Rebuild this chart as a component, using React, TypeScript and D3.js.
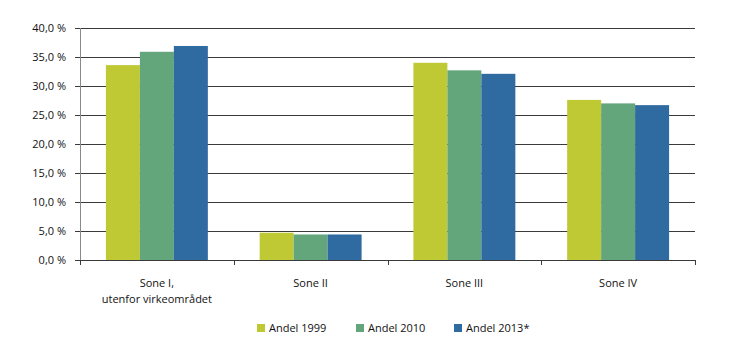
import React, { useEffect, useRef } from 'react';
import * as d3 from 'd3';

// Data
const categories = ['Sone I,\nutenfor virkeområdet', 'Sone II', 'Sone III', 'Sone IV'];
const seriesNames = ['Andel 1999', 'Andel 2010', 'Andel 2013*'];
const andel1999 = [33.6, 4.7, 34.0, 27.6];
const andel2010 = [35.9, 4.4, 32.7, 27.0];
const andel2013 = [36.9, 4.4, 32.1, 26.7];
const yTicks = [0, 5, 10, 15, 20, 25, 30, 35, 40];
const colors = ['#bfc934', '#63a67b', '#2f6aa1'];

const App = () => {
  const ref = useRef<SVGSVGElement>(null);

  useEffect(() => {
    const svg = d3.select(ref.current);
    svg.selectAll('*').remove();

    const font = "'Open Sans', 'Noto Sans', sans-serif";
    const left = 80, right = 695, top = 28, bottom = 260;
    const series = [andel1999, andel2010, andel2013];

    const x = d3.scaleBand<string>()
      .domain(categories)
      .range([left, right])
      .paddingInner(0.337)
      .paddingOuter(0.1685);
    const xs = d3.scaleBand<number>()
      .domain(d3.range(seriesNames.length))
      .range([0, x.bandwidth()]);
    const y = d3.scaleLinear().domain([0, 40]).range([bottom, top]);

    // gridlines
    svg.append('g')
      .selectAll('line')
      .data(yTicks.filter((t) => t > 0))
      .join('line')
      .attr('x1', left)
      .attr('x2', right)
      .attr('y1', (d) => Math.round(y(d)) + 0.5)
      .attr('y2', (d) => Math.round(y(d)) + 0.5)
      .attr('stroke', '#3a3a3a')
      .attr('stroke-width', 1);

    // bars
    series.forEach((vals, si) => {
      svg.append('g')
        .selectAll('rect')
        .data(vals)
        .join('rect')
        .attr('x', (_, i) => (x(categories[i]) as number) + (xs(si) as number))
        .attr('y', (d) => y(d))
        .attr('width', xs.bandwidth())
        .attr('height', (d) => y(0) - y(d))
        .attr('fill', colors[si]);
    });

    // y axis
    svg.append('line')
      .attr('x1', left + 0.5).attr('x2', left + 0.5)
      .attr('y1', top).attr('y2', bottom + 0.5)
      .attr('stroke', '#8a8a8a');
    const yl = svg.append('g');
    yl.selectAll('line')
      .data(yTicks)
      .join('line')
      .attr('x1', left - 5).attr('x2', left)
      .attr('y1', (d) => Math.round(y(d)) + 0.5)
      .attr('y2', (d) => Math.round(y(d)) + 0.5)
      .attr('stroke', '#3a3a3a');
    yl.selectAll('text')
      .data(yTicks)
      .join('text')
      .attr('x', 66)
      .attr('y', (d) => y(d) + 4)
      .attr('text-anchor', 'end')
      .style('font-family', font)
      .style('font-size', '11px')
      .attr('fill', '#111')
      .text((d) => d3.format('.1f')(d).replace('.', ',') + ' %');

    // x axis
    svg.append('line')
      .attr('x1', left).attr('x2', right + 0.5)
      .attr('y1', Math.round(y(0)) + 0.5).attr('y2', Math.round(y(0)) + 0.5)
      .attr('stroke', '#3a3a3a');
    const bounds = categories.map((c) => (x(c) as number) - x.step() * 0.1685).concat([right]);
    svg.append('g')
      .selectAll('line')
      .data(bounds)
      .join('line')
      .attr('x1', (d) => Math.round(d) + 0.5).attr('x2', (d) => Math.round(d) + 0.5)
      .attr('y1', bottom).attr('y2', bottom + 5)
      .attr('stroke', '#3a3a3a');

    const xl = svg.append('g')
      .selectAll('text')
      .data(categories)
      .join('text')
      .attr('x', (d) => (x(d) as number) + x.bandwidth() / 2)
      .attr('y', 287)
      .attr('text-anchor', 'middle')
      .style('font-family', font)
      .style('font-size', '11px')
      .attr('fill', '#111');
    xl.selectAll('tspan')
      .data((d) => d.split('\n'))
      .join('tspan')
      .attr('x', function () {
        return (this.parentNode as SVGTextElement).getAttribute('x');
      })
      .attr('dy', (_, i) => (i === 0 ? 0 : 16))
      .text((d) => d);

    // legend
    const legendX = [257, 356, 454];
    const lg = svg.append('g');
    seriesNames.forEach((name, i) => {
      lg.append('rect')
        .attr('x', legendX[i]).attr('y', 324)
        .attr('width', 8).attr('height', 8)
        .attr('fill', colors[i]);
      lg.append('text')
        .attr('x', legendX[i] + 12).attr('y', 332)
        .style('font-family', font)
        .style('font-size', '11px')
        .attr('fill', '#111')
        .text(name);
    });
  }, []);

  return <svg ref={ref} width={730} height={354} style={{ display: 'block', margin: '-8px' }}></svg>;
};

export default App;
